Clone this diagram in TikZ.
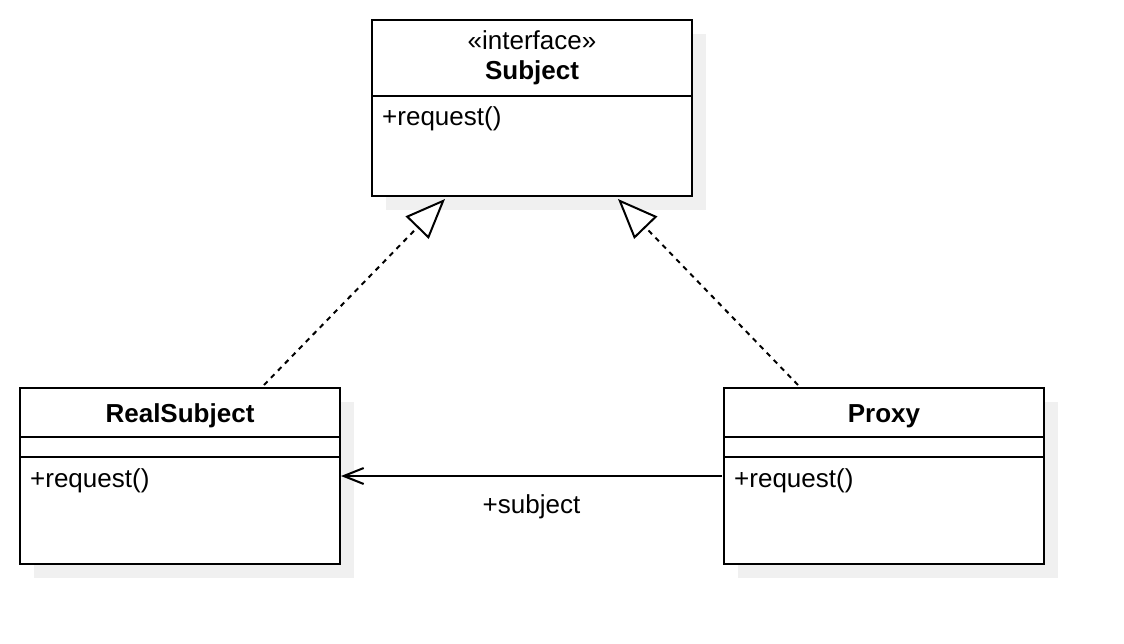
\documentclass[tikz,border=0pt]{standalone}
\usepackage{fontspec}
\setmainfont{Liberation Sans}
\usetikzlibrary{arrows.meta,shadows}
\begin{document}
\begin{tikzpicture}[x=1pt,y=-1pt,
  cls/.style={draw=black, line width=2pt, fill=white, rectangle, inner sep=0pt, anchor=north west,
    minimum width=320pt, minimum height=176pt,
    general shadow={fill=black!6, shadow xshift=14pt, shadow yshift=-14pt}},
  sep/.style={line width=2pt},
  txt/.style={font=\fontsize{26}{30}\selectfont, inner sep=0pt, anchor=base},
  lbl/.style={font=\fontsize{26}{30}\selectfont, inner sep=0pt, anchor=base west},
  bold/.style={font=\fontsize{26}{30}\selectfont\bfseries, inner sep=0pt, anchor=base},
  real/.style={line width=2pt, dash pattern=on 5pt off 5pt, -{Triangle[open, length=40pt, width=32pt, fill=white]}},
  assoc/.style={line width=2pt, -{Straight Barb[length=20pt, width=16pt]}}
]
\useasboundingbox (0,0) rectangle (1124,644);
% classes
\node[cls] (subj) at (371,19) {};
\node[cls] (rs) at (19,387) {};
\node[cls] (px) at (723,387) {};
% separators
\draw[sep] ([yshift=-77pt]subj.north west) -- ([yshift=-77pt]subj.north east);
\draw[sep] ([yshift=-50pt]rs.north west) -- ([yshift=-50pt]rs.north east);
\draw[sep] ([yshift=-70pt]rs.north west) -- ([yshift=-70pt]rs.north east);
\draw[sep] ([yshift=-50pt]px.north west) -- ([yshift=-50pt]px.north east);
\draw[sep] ([yshift=-70pt]px.north west) -- ([yshift=-70pt]px.north east);
% texts
\node[txt] (st) at (532,50) {«interface»};
\node[bold] (sn) at (532,80) {Subject};
\node[lbl] (sm) at (382,126) {+request()};
\node[bold] (rn) at (180,422) {RealSubject};
\node[lbl] (rm) at (30,487) {+request()};
\node[bold] (pn) at (884,422) {Proxy};
\node[lbl] (pm) at (734,487) {+request()};
% connectors
\draw[real] ([xshift=245pt,yshift=2pt]rs.north west) -- ([xshift=74pt,yshift=-2pt]subj.south west);
\draw[real] ([xshift=75pt,yshift=2pt]px.north west) -- ([xshift=247pt,yshift=-2pt]subj.south west);
\draw[assoc] ([xshift=-1pt,yshift=-89pt]px.north west) -- ([xshift=0pt,yshift=-89pt]rs.north east)
  node[pos=0.5, txt, yshift=-37pt] (al) {+subject};
\end{tikzpicture}
\end{document}
